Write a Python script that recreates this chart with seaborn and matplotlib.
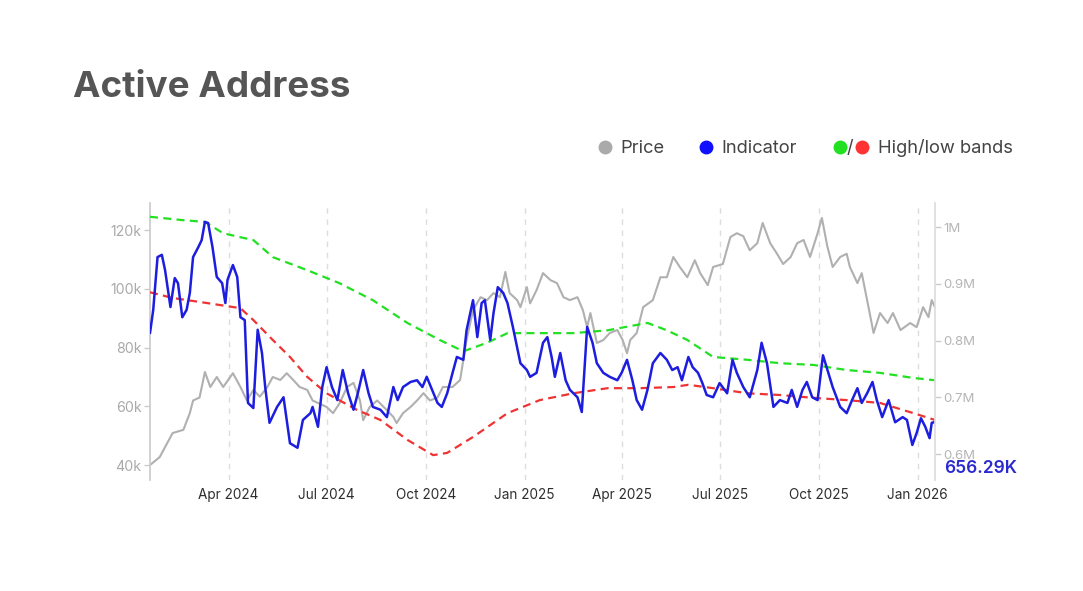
"""Active addresses indicator vs price with high/low bands."""

import matplotlib
matplotlib.use("Agg")
import matplotlib.pyplot as plt
import matplotlib.dates as mdates
from matplotlib.lines import Line2D
from matplotlib.ticker import FuncFormatter
import pandas as pd
import seaborn as sns

# price, thousands of USD (left axis)
price_dates = [
    "2024-01-19", "2024-01-28", "2024-02-09", "2024-02-19", "2024-02-25", "2024-02-28",
    "2024-03-05", "2024-03-10", "2024-03-15", "2024-03-21", "2024-03-27", "2024-04-05",
    "2024-04-12", "2024-04-18", "2024-04-24", "2024-04-30", "2024-05-07", "2024-05-12",
    "2024-05-19", "2024-05-25", "2024-05-31", "2024-06-06", "2024-06-13", "2024-06-18",
    "2024-07-01", "2024-07-07", "2024-07-13", "2024-07-20", "2024-07-26", "2024-08-01",
    "2024-08-04", "2024-08-10", "2024-08-17", "2024-08-26", "2024-09-01", "2024-09-04",
    "2024-09-10", "2024-09-17", "2024-09-23", "2024-09-29", "2024-10-05", "2024-10-12",
    "2024-10-17", "2024-10-26", "2024-11-02", "2024-11-08", "2024-11-14", "2024-11-21",
    "2024-11-27", "2024-12-03", "2024-12-09", "2024-12-14", "2024-12-18", "2024-12-25",
    "2024-12-28", "2025-01-03", "2025-01-06", "2025-01-12", "2025-01-18", "2025-01-25",
    "2025-01-31", "2025-02-06", "2025-02-12", "2025-02-19", "2025-02-24", "2025-02-28",
    "2025-03-03", "2025-03-09", "2025-03-15", "2025-03-21", "2025-03-28", "2025-04-02",
    "2025-04-06", "2025-04-09", "2025-04-15", "2025-04-21", "2025-04-30", "2025-05-07",
    "2025-05-13", "2025-05-19", "2025-05-25", "2025-06-01", "2025-06-08", "2025-06-13",
    "2025-06-20", "2025-06-25", "2025-07-04", "2025-07-11", "2025-07-17", "2025-07-23",
    "2025-07-29", "2025-08-05", "2025-08-10", "2025-08-17", "2025-08-23", "2025-08-29",
    "2025-09-05", "2025-09-11", "2025-09-17", "2025-09-23", "2025-09-30", "2025-10-04",
    "2025-10-09", "2025-10-14", "2025-10-21", "2025-10-27", "2025-10-30", "2025-11-06",
    "2025-11-10", "2025-11-15", "2025-11-21", "2025-11-27", "2025-12-04", "2025-12-09",
    "2025-12-16", "2025-12-25", "2025-12-31", "2026-01-06", "2026-01-11", "2026-01-14",
    "2026-01-17",
]
price_k = [
    40.0, 42.7, 50.9, 52.0, 57.7, 62.0,
    63.0, 71.7, 66.6, 70.0, 66.6, 71.3,
    66.6, 62.0, 65.6, 63.3, 66.6, 70.0,
    69.0, 71.3, 69.0, 66.6, 65.6, 62.0,
    59.8, 57.7, 61.0, 66.6, 68.0, 62.0,
    55.3, 59.8, 62.0, 58.7, 56.4, 54.3,
    57.7, 59.8, 62.0, 64.5, 62.0, 63.0,
    66.6, 66.6, 69.0, 82.6, 92.8, 97.2,
    96.2, 98.6, 97.2, 105.8, 98.6, 96.2,
    93.8, 100.6, 95.1, 99.6, 105.4, 103.0,
    102.0, 97.2, 96.2, 97.2, 92.8, 87.0,
    91.8, 81.6, 82.6, 85.0, 86.0, 82.6,
    78.1, 82.6, 85.0, 93.8, 96.2, 104.0,
    104.0, 110.9, 107.5, 104.0, 109.8, 105.4,
    101.3, 107.5, 108.5, 117.7, 119.0, 118.0,
    113.2, 115.6, 122.5, 115.6, 112.2, 108.5,
    110.9, 115.6, 116.7, 110.9, 119.0, 124.2,
    114.6, 107.5, 110.9, 112.0, 107.5, 102.0,
    105.4, 96.2, 85.0, 91.8, 88.4, 91.8,
    86.0, 88.4, 87.0, 93.8, 90.4, 96.2,
    93.8,
]

# active address indicator, millions (right axis)
ind_dates = [
    "2024-01-19", "2024-01-22", "2024-01-26", "2024-01-30", "2024-02-02", "2024-02-07",
    "2024-02-11", "2024-02-14", "2024-02-18", "2024-02-22", "2024-02-25", "2024-02-28",
    "2024-03-04", "2024-03-07", "2024-03-10", "2024-03-13", "2024-03-17", "2024-03-21",
    "2024-03-26", "2024-03-29", "2024-03-31", "2024-04-05", "2024-04-09", "2024-04-12",
    "2024-04-16", "2024-04-19", "2024-04-24", "2024-04-28", "2024-05-02", "2024-05-05",
    "2024-05-09", "2024-05-16", "2024-05-22", "2024-05-28", "2024-06-04", "2024-06-09",
    "2024-06-16", "2024-06-18", "2024-06-23", "2024-06-27", "2024-07-01", "2024-07-06",
    "2024-07-11", "2024-07-16", "2024-07-21", "2024-07-26", "2024-07-30", "2024-08-04",
    "2024-08-09", "2024-08-13", "2024-08-20", "2024-08-26", "2024-09-01", "2024-09-05",
    "2024-09-10", "2024-09-17", "2024-09-23", "2024-09-28", "2024-10-02", "2024-10-07",
    "2024-10-12", "2024-10-16", "2024-10-21", "2024-10-26", "2024-10-30", "2024-11-05",
    "2024-11-08", "2024-11-14", "2024-11-18", "2024-11-22", "2024-11-25", "2024-11-30",
    "2024-12-03", "2024-12-07", "2024-12-12", "2024-12-16", "2024-12-21", "2024-12-28",
    "2025-01-03", "2025-01-06", "2025-01-12", "2025-01-18", "2025-01-22", "2025-01-26",
    "2025-01-29", "2025-02-03", "2025-02-08", "2025-02-12", "2025-02-19", "2025-02-23",
    "2025-02-28", "2025-03-05", "2025-03-09", "2025-03-15", "2025-03-21", "2025-03-28",
    "2025-04-01", "2025-04-06", "2025-04-11", "2025-04-15", "2025-04-20", "2025-04-25",
    "2025-04-30", "2025-05-07", "2025-05-13", "2025-05-18", "2025-05-23", "2025-05-27",
    "2025-06-02", "2025-06-06", "2025-06-11", "2025-06-15", "2025-06-19", "2025-06-25",
    "2025-07-01", "2025-07-08", "2025-07-13", "2025-07-17", "2025-07-23", "2025-07-29",
    "2025-08-05", "2025-08-09", "2025-08-14", "2025-08-20", "2025-08-26", "2025-09-02",
    "2025-09-06", "2025-09-11", "2025-09-16", "2025-09-20", "2025-09-25", "2025-09-30",
    "2025-10-05", "2025-10-10", "2025-10-14", "2025-10-21", "2025-10-27", "2025-11-01",
    "2025-11-06", "2025-11-10", "2025-11-15", "2025-11-20", "2025-11-24", "2025-11-29",
    "2025-12-05", "2025-12-11", "2025-12-18", "2025-12-22", "2025-12-27", "2025-12-31",
    "2026-01-04", "2026-01-08", "2026-01-12", "2026-01-14", "2026-01-17",
]
ind_m = [
    0.813, 0.854, 0.947, 0.951, 0.924, 0.859,
    0.910, 0.901, 0.841, 0.854, 0.884, 0.947,
    0.965, 0.977, 1.009, 1.007, 0.965, 0.912,
    0.901, 0.866, 0.907, 0.933, 0.912, 0.841,
    0.836, 0.690, 0.681, 0.819, 0.778, 0.718,
    0.655, 0.683, 0.700, 0.619, 0.611, 0.660,
    0.672, 0.683, 0.648, 0.718, 0.753, 0.718,
    0.695, 0.748, 0.707, 0.678, 0.707, 0.748,
    0.707, 0.683, 0.678, 0.665, 0.718, 0.695,
    0.718, 0.727, 0.730, 0.718, 0.736, 0.713,
    0.690, 0.683, 0.707, 0.743, 0.771, 0.766,
    0.818, 0.871, 0.806, 0.866, 0.871, 0.801,
    0.848, 0.894, 0.884, 0.866, 0.824, 0.760,
    0.748, 0.736, 0.743, 0.796, 0.806, 0.771,
    0.736, 0.778, 0.730, 0.713, 0.700, 0.674,
    0.824, 0.796, 0.760, 0.743, 0.736, 0.730,
    0.743, 0.766, 0.730, 0.695, 0.678, 0.713,
    0.760, 0.778, 0.766, 0.748, 0.753, 0.730,
    0.771, 0.753, 0.743, 0.725, 0.704, 0.700,
    0.725, 0.707, 0.766, 0.743, 0.718, 0.700,
    0.748, 0.796, 0.760, 0.683, 0.695, 0.690,
    0.713, 0.683, 0.713, 0.727, 0.700, 0.695,
    0.774, 0.743, 0.718, 0.683, 0.672, 0.695,
    0.716, 0.690, 0.707, 0.727, 0.695, 0.665,
    0.695, 0.656, 0.665, 0.660, 0.616, 0.637,
    0.663, 0.648, 0.628, 0.655, 0.65629,
]

# high band (green), millions
high_dates = [
    "2024-01-19", "2024-02-19", "2024-03-10", "2024-03-27", "2024-04-12", "2024-04-24",
    "2024-05-12", "2024-06-13", "2024-07-13", "2024-08-13", "2024-09-14", "2024-10-14",
    "2024-11-05", "2024-11-27", "2024-12-16", "2025-01-15", "2025-02-15", "2025-03-19",
    "2025-04-25", "2025-05-13", "2025-06-01", "2025-06-25", "2025-07-27", "2025-08-26",
    "2025-09-26", "2025-10-27", "2025-11-27", "2025-12-28", "2026-01-17",
]
high_m = [
    1.018, 1.012, 1.009, 0.989, 0.982, 0.977,
    0.947, 0.924, 0.901, 0.871, 0.831, 0.801,
    0.781, 0.796, 0.813, 0.813, 0.813, 0.818,
    0.831, 0.818, 0.801, 0.771, 0.766, 0.760,
    0.757, 0.748, 0.743, 0.734, 0.730,
]

# low band (red), millions
low_dates = [
    "2024-01-19", "2024-02-09", "2024-03-12", "2024-04-12", "2024-04-24", "2024-05-12",
    "2024-05-28", "2024-06-13", "2024-07-01", "2024-07-29", "2024-08-20", "2024-09-14",
    "2024-10-08", "2024-10-21", "2024-11-14", "2024-12-16", "2025-01-15", "2025-02-15",
    "2025-03-19", "2025-04-18", "2025-05-19", "2025-06-02", "2025-06-25", "2025-07-27",
    "2025-08-26", "2025-09-26", "2025-10-27", "2025-11-27", "2025-12-28", "2026-01-17",
]
low_m = [
    0.885, 0.875, 0.866, 0.857, 0.836, 0.801,
    0.771, 0.736, 0.707, 0.678, 0.660, 0.625,
    0.598, 0.602, 0.630, 0.672, 0.695, 0.707,
    0.716, 0.716, 0.718, 0.722, 0.716, 0.707,
    0.704, 0.699, 0.695, 0.690, 0.672, 0.660,
]

price_ticks = [40, 60, 80, 100, 120]
ind_ticks = [0.6, 0.7, 0.8, 0.9, 1.0]

GRAY, BLUE, GREEN, RED = "#b0b0b0", "#1d1de0", "#22e022", "#ee3333"
DASH = (0, (3.6, 2.4))

sns.set_theme(style="white")
plt.rcParams["font.family"] = ["Inter", "DejaVu Sans"]

fig = plt.figure(figsize=(10.83, 5.91), dpi=100)
ax = fig.add_axes([0.1385, 0.1878, 0.7248, 0.4687])
ax2 = ax.twinx()

sns.lineplot(x=pd.to_datetime(price_dates), y=price_k, ax=ax,
             color=GRAY, lw=1.5)
sns.lineplot(x=pd.to_datetime(high_dates), y=high_m, ax=ax2,
             color=GREEN, lw=1.6, linestyle=DASH)
sns.lineplot(x=pd.to_datetime(low_dates), y=low_m, ax=ax2,
             color=RED, lw=1.6, linestyle=DASH)
sns.lineplot(x=pd.to_datetime(ind_dates), y=ind_m, ax=ax2,
             color=BLUE, lw=1.8)

ax.set_xlim(pd.Timestamp("2024-01-19"), pd.Timestamp("2026-01-17"))
ax.set_ylim(34.9, 129.3)
ax2.set_ylim(0.5542, 1.0423)

ax.xaxis.set_major_locator(mdates.MonthLocator(bymonth=[1, 4, 7, 10]))
ax.xaxis.set_major_formatter(mdates.DateFormatter("%b %Y"))
ax.set_yticks(price_ticks)
ax.yaxis.set_major_formatter(FuncFormatter(lambda v, _: f"{v:g}k"))
ax2.set_yticks(ind_ticks)
ax2.yaxis.set_major_formatter(FuncFormatter(lambda v, _: f"{v:g}M"))

ax.grid(axis="x", color="#dddddd", ls=(0, (4, 4)), lw=1)
for a in (ax, ax2):
    a.set_xlabel("")
    a.set_ylabel("")
    for s in a.spines.values():
        s.set_visible(False)
ax.spines["left"].set_visible(True)
ax.spines["left"].set_color("#cccccc")
ax2.spines["right"].set_visible(True)
ax2.spines["right"].set_color("#dddddd")

ax.tick_params(axis="x", length=0, pad=6, labelsize=9.8, labelcolor="#2e2e2e")
ax.tick_params(axis="y", left=True, length=4, color="#cccccc", width=1,
               labelsize=10.2, labelcolor="#aaaaaa", pad=2)
ax2.tick_params(axis="y", right=True, length=4, color="#cccccc", width=1,
                labelsize=9.5, labelcolor="#b5b5b5", pad=2)

# last value tag
ax2.text(1.012, 0.043, f"{ind_m[-1] * 1000:.2f}K", transform=ax2.transAxes,
         color="#2a2ad0", fontsize=12.5, fontweight="semibold", va="center", ha="left")

fig.text(0.0674, 0.836, "Active Address", fontsize=26.5, fontweight="bold",
         color="#555555", va="baseline", ha="left")

# legend
ly = 0.751
for xm, col in [(0.5586, "#aaaaaa"), (0.652, "#1010ff"),
                (0.7756, "#22e022"), (0.796, "#ff3333")]:
    fig.add_artist(Line2D([xm], [ly], marker="o", ms=9, color=col,
                          ls="none", transform=fig.transFigure))
for xt, txt in [(0.5725, "Price"), (0.6657, "Indicator"),
                (0.7817, "/"), (0.8107, "High/low bands")]:
    fig.text(xt, ly - 0.002, txt, fontsize=13.2, color="#444444", va="center", ha="left")

fig.savefig("out.png", dpi=100)
